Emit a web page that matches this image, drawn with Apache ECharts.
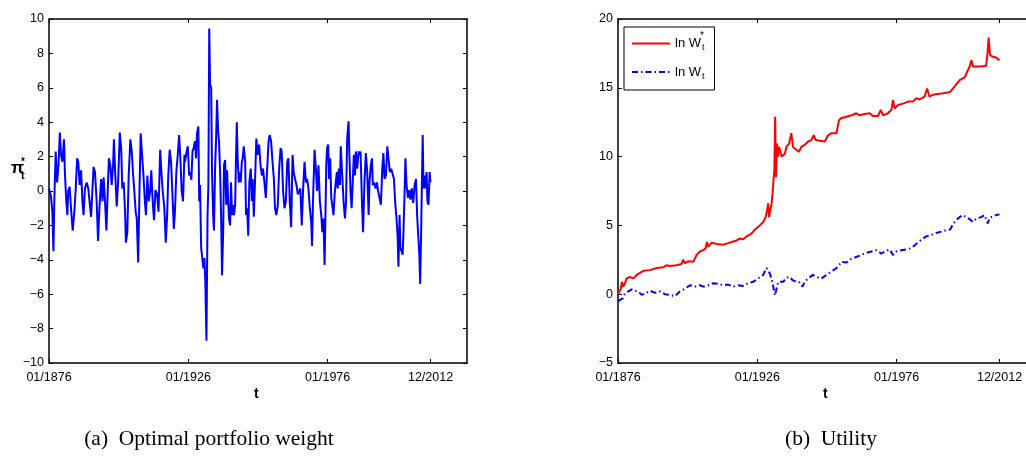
<!DOCTYPE html>
<html><head><meta charset="utf-8">
<script src="https://cdn.jsdelivr.net/npm/echarts@6/dist/echarts.min.js"></script>
<style>html,body{margin:0;padding:0;background:#fff}#c{width:1026px;height:470px}</style>
</head><body><div id="c"></div>
<script>
// ---- tick labels ----
const xTickValues = [1876, 1926, 1976, 2012.917];
const xTickLabels = ['01/1876', '01/1926', '01/1976', '12/2012'];

// ---- (a) optimal portfolio weight pi*_t ----
const piYears = [1876.0,1876.7,1877.2,1877.6,1877.9,1878.4,1878.9,1879.4,1879.9,1880.3,1880.8,1881.4,1881.7,1882.2,1882.6,1882.9,1883.4,1883.9,1884.5,1885.1,1885.6,1886.1,1886.5,1887.0,1887.5,1888.0,1888.4,1888.9,1889.5,1890.1,1890.6,1891.1,1891.7,1892.0,1892.5,1893.1,1893.6,1894.1,1894.7,1895.2,1895.6,1896.1,1896.6,1897.1,1897.5,1898.0,1898.5,1899.0,1899.3,1899.8,1900.3,1900.8,1901.4,1901.9,1902.3,1902.8,1903.3,1903.6,1904.1,1904.6,1905.2,1905.7,1906.2,1906.6,1907.1,1907.5,1908.0,1908.4,1908.9,1909.4,1909.9,1910.4,1910.8,1911.3,1911.8,1912.3,1912.7,1913.2,1913.7,1914.2,1914.8,1915.3,1915.9,1916.3,1916.8,1917.4,1917.9,1918.4,1918.8,1919.3,1919.8,1920.3,1920.8,1921.2,1921.7,1922.2,1922.7,1923.2,1923.6,1924.1,1924.6,1924.8,1925.4,1925.8,1926.3,1926.7,1927.1,1927.5,1927.9,1928.4,1928.8,1929.1,1929.6,1929.9,1930.2,1930.6,1931.1,1931.4,1931.8,1932.1,1932.5,1932.9,1933.2,1933.5,1933.8,1934.2,1934.5,1934.9,1935.2,1935.6,1936.0,1936.3,1936.7,1937.0,1937.4,1937.8,1938.1,1938.5,1938.8,1939.2,1939.6,1939.9,1940.3,1940.6,1941.0,1941.3,1941.7,1942.1,1942.4,1942.8,1943.1,1943.4,1943.7,1944.1,1944.5,1944.8,1945.2,1945.5,1945.9,1946.4,1946.7,1947.1,1947.5,1947.9,1948.4,1948.8,1949.1,1949.5,1950.0,1950.4,1950.9,1951.4,1951.9,1952.4,1952.8,1953.3,1953.8,1954.3,1954.8,1955.2,1955.7,1956.2,1956.7,1957.1,1957.6,1958.1,1958.6,1959.1,1959.5,1960.0,1960.5,1961.0,1961.5,1961.9,1962.4,1962.9,1963.4,1963.8,1964.3,1964.8,1965.3,1965.8,1966.2,1966.7,1967.2,1967.7,1968.2,1968.6,1969.1,1969.6,1970.1,1970.4,1970.8,1971.3,1971.7,1972.2,1972.7,1973.2,1973.7,1974.1,1974.5,1974.9,1975.5,1975.8,1976.2,1976.5,1976.9,1977.3,1977.7,1978.1,1978.5,1978.9,1979.3,1979.6,1980.0,1980.4,1980.7,1981.2,1981.7,1982.2,1982.6,1983.0,1983.5,1983.8,1984.2,1984.6,1984.9,1985.4,1985.8,1986.1,1986.6,1987.1,1987.4,1987.8,1988.3,1988.7,1989.2,1989.7,1990.2,1990.7,1991.0,1991.5,1991.9,1992.2,1992.7,1993.2,1993.7,1994.1,1994.6,1995.1,1995.6,1996.0,1996.4,1996.9,1997.4,1997.8,1998.3,1998.8,1999.3,1999.8,2000.2,2000.7,2001.1,2001.4,2001.8,2002.1,2002.5,2002.9,2003.2,2003.6,2003.9,2004.3,2004.8,2005.3,2005.7,2006.2,2006.7,2007.2,2007.7,2008.1,2008.5,2008.9,2009.2,2009.6,2010.1,2010.4,2010.8,2011.1,2011.5,2011.8,2012.2,2012.6,2012.9];
const piValues = [0.15,-0.3,-1.2,-3.5,-0.6,2.3,0.5,1.5,3.4,2.1,1.7,3.0,1.1,-0.6,-1.4,0,0.25,-1.0,-2.3,-1.2,0.15,1.9,1.7,0.35,1.2,-0.6,-1.4,0.15,0.5,0.15,0.25,-1.5,-1.5,1.4,1.1,-0.6,-2.9,-1.0,0.7,-0.6,0.8,-0.6,-2.3,0.15,1.9,1.5,0.35,1.5,3.0,0.9,-0.9,0.5,3.4,2.5,0.15,0.5,-1.2,-3.0,-2.4,0.9,3.0,2.3,0.9,0.05,-1.2,-1.6,-4.15,-0.6,3.35,2.1,0.9,-0.6,-1.4,0.9,-0.6,0,1.2,-0.6,-1.7,0.05,-0.2,-1.2,2.4,1.2,0,-1.0,-3.0,-1.4,0.9,2.4,1.7,-0.2,-2.2,-1.2,1.1,2.1,3.25,1.7,0,-0.6,2.1,1.7,2.3,2.6,0.9,1.1,0.65,2.3,2.5,2.9,1.9,3.35,3.75,-0.6,0.35,-3.3,-3.3,-4.5,-3.9,-5.3,-8.7,-1.4,0.35,9.45,6.2,6.0,1.1,-1.4,-2.3,1.3,3.25,5.3,3.45,2.9,1.1,-1.8,-4.9,-2.4,1.5,1.8,-0.8,1.2,-0.6,-1.6,-2.0,0.5,-1.4,-0.8,-1.4,-0.8,1.9,4.0,1.9,0.5,1.1,0.5,1.7,1.9,2.6,1.7,-1.4,-1.0,-2.6,0.5,1.3,-0.6,0.7,-1.5,0.9,3.05,2.1,2.7,1.5,0.9,1.3,0.5,-0.4,1.3,2.9,3.25,2.9,1.7,0.7,-1.0,-1.4,-0.8,1.3,2.5,2.3,0,-1.0,-0.6,1.7,1.9,-0.6,-2.1,2.1,1.1,0.7,0.35,-0.2,-0.3,0.15,-2.0,0.15,1.7,0.5,0.7,0.15,-1.0,-1.8,-3.2,-0.2,2.4,1.5,0,1.5,-0.6,-1.4,-2.4,-1.6,-4.3,1.5,2.5,2.7,0.7,1.9,-0.4,-0.9,-1.4,-0.2,0.5,1.1,0.15,1.3,0.35,2.6,2.5,-0.6,-1.6,-0.6,3.05,4.05,2.1,0,-1.0,0.15,2.1,0.9,2.3,1.3,2.3,2.1,2.3,-0.6,-2.4,0.5,2.2,1.1,-1.4,0.5,1.5,1.9,0.35,0.5,0.15,0.5,0,-0.4,-0.8,1.3,2.2,0.7,0.9,2.6,2.5,1.1,1.3,1.2,0.7,-0.6,-1.6,-2.6,-4.4,-1.4,-3.3,-3.5,-3.7,-2.4,-0.1,1.9,0.35,-0.4,0.05,-0.5,0.15,-0.7,0.35,0.7,-1.4,-2.6,-3.7,-5.4,-1.8,3.25,0.15,0.9,0.15,1.1,-0.6,-0.8,1.1,0.5];

// ---- (b) utility: ln W*_t ----
const lnWStarYears = [1876.0,1876.4,1877.0,1877.4,1877.9,1878.5,1879.1,1879.7,1880.3,1881.5,1882.7,1883.9,1885.1,1887.5,1889.9,1892.2,1893.4,1894.6,1897.0,1898.8,1899.4,1900.0,1901.2,1901.8,1903.0,1904.2,1905.4,1906.6,1907.5,1907.9,1908.4,1909.6,1911.4,1913.8,1916.1,1918.5,1919.7,1920.9,1922.1,1923.9,1925.1,1926.9,1928.1,1929.0,1929.5,1929.9,1930.2,1930.7,1931.1,1931.5,1931.8,1932.1,1932.4,1932.7,1933.1,1933.4,1933.8,1934.1,1934.7,1935.3,1935.9,1936.4,1937.4,1938.2,1938.8,1940.0,1940.9,1941.8,1943.0,1944.2,1945.4,1946.2,1947.0,1948.4,1950.2,1951.4,1952.6,1954.4,1955.3,1956.2,1958.0,1959.8,1961.5,1962.7,1964.5,1966.3,1967.5,1969.3,1970.3,1971.1,1972.9,1974.1,1974.7,1975.3,1976.5,1978.3,1980.1,1981.9,1983.0,1984.2,1986.0,1986.9,1987.8,1989.0,1990.8,1992.6,1995.2,1996.8,1998.6,2000.4,2001.6,2002.2,2002.8,2003.4,2004.6,2006.3,2008.1,2008.6,2009.0,2009.5,2010.5,2011.7,2012.9];
const lnWStarValues = [0.0,0.06,0.4,0.9,0.55,0.8,1.15,1.2,1.25,1.15,1.4,1.55,1.7,1.75,1.9,1.95,2.1,2.05,2.1,2.2,2.5,2.25,2.4,2.3,2.35,2.85,3.1,3.2,3.35,3.8,3.45,3.75,3.65,3.6,3.75,3.9,4.05,4.0,4.2,4.4,4.7,5.0,5.25,5.6,6.1,6.6,5.6,5.5,6.6,7.4,8.3,9.0,12.9,8.5,10.95,10.0,10.7,10.5,10.0,9.9,10.2,10.7,10.95,11.7,10.7,10.5,10.35,10.7,10.85,11.1,11.2,11.55,11.2,11.15,11.1,11.55,11.7,11.7,12.65,12.8,12.9,13.0,13.15,13.0,13.1,13.15,12.95,12.95,13.4,13.0,13.15,13.4,14.1,13.5,13.75,13.85,14.0,14.0,14.25,14.15,14.35,14.95,14.35,14.5,14.55,14.6,14.7,15.1,15.55,15.75,16.3,16.55,17.0,16.55,16.55,16.55,16.6,17.5,18.65,17.4,17.25,17.2,17.0];

// ---- (b) utility: ln W_t ----
const lnWYears = [1876.0,1876.7,1877.7,1878.5,1879.7,1880.9,1882.1,1883.3,1884.5,1885.7,1887.5,1889.3,1891.1,1892.8,1894.6,1896.4,1898.2,1900.0,1901.8,1903.6,1905.4,1906.6,1908.4,1910.2,1912.0,1913.8,1915.5,1917.3,1919.1,1920.9,1922.7,1924.5,1926.3,1928.1,1929.3,1930.5,1931.5,1932.3,1933.5,1934.1,1935.3,1936.4,1937.6,1938.8,1940.0,1941.2,1942.2,1943.0,1944.2,1946.0,1947.2,1949.0,1950.8,1952.6,1954.4,1956.2,1958.0,1959.8,1961.5,1963.3,1965.1,1966.9,1968.7,1970.5,1972.1,1973.5,1974.7,1975.9,1977.7,1979.5,1981.3,1983.0,1984.8,1986.6,1988.4,1990.2,1992.0,1993.8,1995.2,1996.4,1998.0,1999.5,2001.0,2002.2,2003.4,2004.6,2006.3,2007.5,2008.7,2009.3,2010.5,2011.7,2012.9];
const lnWValues = [-0.5,-0.4,-0.3,0.05,0.2,0.35,0.25,0.2,-0.05,0.05,0.25,0.1,0.2,0.0,-0.05,-0.15,0.2,0.4,0.65,0.55,0.65,0.55,0.65,0.8,0.75,0.65,0.7,0.55,0.65,0.6,0.8,0.9,1.15,1.4,1.9,1.5,0.8,-0.1,0.9,0.8,0.9,1.2,1.25,1.0,0.9,0.85,0.55,0.9,1.15,1.4,1.25,1.15,1.4,1.65,1.9,2.35,2.3,2.6,2.7,2.85,3.0,3.1,3.2,2.95,3.15,3.25,2.85,3.1,3.2,3.25,3.35,3.65,3.95,4.2,4.3,4.45,4.55,4.65,4.7,5.15,5.5,5.75,5.6,5.45,5.25,5.5,5.6,5.75,5.15,5.55,5.65,5.75,5.8];

const zip = (xs, ys) => xs.map((x, i) => [x, ys[i]]);
const minus = v => String(v).replace('-', '\u2212');
const FONT = '"Liberation Sans", Arial, Helvetica, sans-serif';
const SERIF = '"Liberation Serif", "Times New Roman", serif';
const tickLabel = v => { const i = xTickValues.indexOf(v); return i >= 0 ? xTickLabels[i] : ''; };

function xAxes(gi) {
  const base = {
    type: 'value', gridIndex: gi, min: 1876, max: 2026,
    axisLine: { onZero: false, lineStyle: { color: '#000', width: 1.5 } },
    splitLine: { show: false },
    axisTick: { inside: true, length: 4, customValues: xTickValues, lineStyle: { color: '#000', width: 1 } },
  };
  return [
    Object.assign({}, base, { position: 'bottom',
      axisLabel: { customValues: xTickValues, formatter: tickLabel, color: '#000', fontFamily: FONT, fontSize: 12.5, margin: 8 } }),
    Object.assign({}, base, { position: 'top', axisLabel: { show: false } })
  ];
}
function yAxes(gi, min, max, step) {
  const base = {
    type: 'value', gridIndex: gi, min: min, max: max, interval: step,
    axisLine: { show: true, onZero: false, lineStyle: { color: '#000', width: 1.5 } },
    splitLine: { show: false },
    axisTick: { show: true, inside: true, length: 4, lineStyle: { color: '#000', width: 1 } },
  };
  return [
    Object.assign({}, base, { position: 'left',
      axisLabel: { formatter: minus, color: '#000', fontFamily: FONT, fontSize: 12.5, margin: 5 } }),
    Object.assign({}, base, { position: 'right', axisLabel: { show: false } })
  ];
}

const chart = echarts.init(document.getElementById('c'), null, { renderer: 'canvas' });
chart.setOption({
  animation: false,
  backgroundColor: '#fff',
  grid: [
    { left: 49, top: 19, width: 418, height: 344, outerBoundsMode: 'none' },
    { left: 618, top: 19, width: 418, height: 344, outerBoundsMode: 'none' }
  ],
  xAxis: [...xAxes(0), ...xAxes(1)],
  yAxis: [...yAxes(0, -10, 10, 2), ...yAxes(1, -5, 20, 5)],
  legend: {
    left: 624, top: 27, orient: 'vertical',
    data: ['lnWstar', 'lnW'],
    backgroundColor: '#fff', borderColor: '#000', borderWidth: 1, borderRadius: 0,
    padding: [10, 10, 9, 7], itemGap: 13, itemWidth: 38, itemHeight: 12,
    itemStyle: { opacity: 0 },
    formatter: () => '{m|ln W}{s|t}',
    textStyle: {
      color: '#000', fontFamily: FONT, fontSize: 12,
      rich: { m: { fontSize: 13, fontFamily: FONT, color: '#000' },
              s: { fontSize: 9, fontFamily: FONT, color: '#000', padding: [9, 0, 0, 1] } }
    }
  },
  series: [
    { type: 'line', xAxisIndex: 0, yAxisIndex: 0, data: zip(piYears, piValues),
      showSymbol: false, symbol: 'none', lineStyle: { color: '#0000ff', width: 2 }, itemStyle: { color: '#0000ff' } },
    { name: 'lnWstar', type: 'line', xAxisIndex: 2, yAxisIndex: 2, data: zip(lnWStarYears, lnWStarValues),
      showSymbol: false, symbol: 'none', lineStyle: { color: '#ff0000', width: 2 }, itemStyle: { color: '#ff0000' } },
    { name: 'lnW', type: 'line', xAxisIndex: 2, yAxisIndex: 2, data: zip(lnWYears, lnWValues),
      showSymbol: false, symbol: 'none', lineStyle: { color: '#0000ff', width: 2, type: [6, 3, 1.5, 3] }, itemStyle: { color: '#0000ff' } }
  ],
  graphic: [
    { type: 'text', left: 11, top: 160, style: { text: 'π', font: 'bold 17px ' + FONT, fill: '#000' } },
    { type: 'text', left: 21, top: 157, style: { text: '*', font: 'bold 10px ' + FONT, fill: '#000' } },
    { type: 'text', left: 21, top: 170, style: { text: 't', font: 'bold 11px ' + FONT, fill: '#000' } },
    { type: 'text', left: 254, top: 387, style: { text: 't', font: 'bold 14px ' + FONT, fill: '#000' } },
    { type: 'text', left: 823, top: 387, style: { text: 't', font: 'bold 14px ' + FONT, fill: '#000' } },
    { type: 'text', left: 700, top: 31, z: 200, zlevel: 1, style: { text: '*', font: '10px ' + FONT, fill: '#000' } },
    { type: 'text', x: 209, y: 428, style: { text: '(a)  Optimal portfolio weight', font: '21.5px ' + SERIF, fill: '#000', align: 'center' } },
    { type: 'text', x: 831, y: 428, style: { text: '(b)  Utility', font: '21.5px ' + SERIF, fill: '#000', align: 'center' } }
  ]
});
</script>
</body></html>
